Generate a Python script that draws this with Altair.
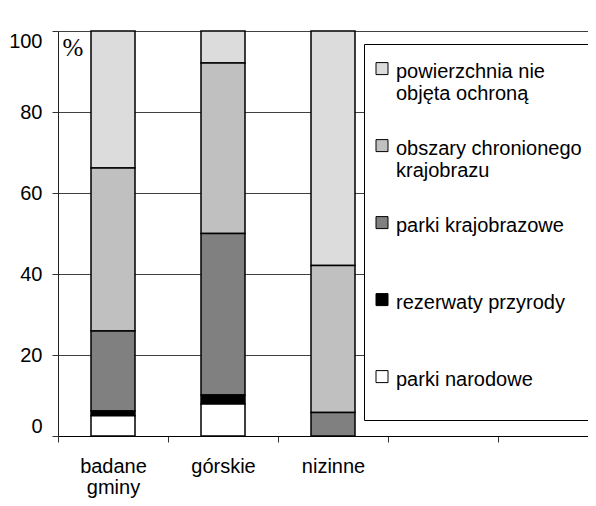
import altair as alt
import pandas as pd

# ---- data ----
categories = ["badane gminy", "górskie", "nizinne"]
empty_slots = [" ", "  ", "   "]
series = [
    "powierzchnia nie objęta ochroną",
    "obszary chronionego krajobrazu",
    "parki krajobrazowe",
    "rezerwaty przyrody",
    "parki narodowe",
]
colors = ["#dcdcdc", "#c0c0c0", "#808080", "#000000", "#ffffff"]
stack_rank = [4, 3, 2, 1, 0]
nie_objeta = [33.8, 7.9, 57.9]
obszary = [40.3, 42.1, 36.3]
krajobrazowe = [19.7, 39.9, 5.8]
rezerwaty = [1.2, 2.2, 0.0]
narodowe = [5.0, 7.9, 0.0]
percent_label = ["%"]
y_ticks = [0, 20, 40, 60, 80, 100]

values = [nie_objeta, obszary, krajobrazowe, rezerwaty, narodowe]
rows = []
for s, r, vals in zip(series, stack_rank, values):
    for c, v in zip(categories, vals):
        if v > 0:
            rows.append({"kategoria": c, "seria": s, "rank": r, "wartosc": v})
df = pd.DataFrame(rows)

FONT = "Liberation Sans"

x_label_expr = (
    "datum.label == 'badane gminy' ? ['badane', 'gminy'] : "
    "(datum.label == 'górskie' || datum.label == 'nizinne') ? datum.label : ''"
)
legend_label_expr = (
    "datum.label == 'powierzchnia nie objęta ochroną' ? ['powierzchnia nie', 'objęta ochroną'] : "
    "datum.label == 'obszary chronionego krajobrazu' ? ['obszary chronionego', 'krajobrazu'] : "
    "[datum.label, '']"
)

bars = alt.Chart(df).mark_bar(width=44, stroke="black", strokeWidth=1.5).encode(
    x=alt.X(
        "kategoria:N",
        scale=alt.Scale(domain=categories + empty_slots, range=[0, 660],
                        paddingInner=0, paddingOuter=0),
        axis=alt.Axis(
            title=None, labelAngle=0, labelExpr=x_label_expr, tickBand="extent",
            labelFont=FONT, labelFontSize=20, labelColor="black",
            labelPadding=14, labelLineHeight=21, tickSize=6, tickColor="#333",
            domainColor="black", domainWidth=1, grid=False,
        ),
    ),
    y=alt.Y(
        "wartosc:Q",
        stack="zero",
        scale=alt.Scale(domain=[0, 100], nice=False),
        axis=alt.Axis(
            title=None, values=y_ticks, labelFlush=True,
            labelFont=FONT, labelFontSize=20, labelColor="black", labelPadding=10,
            tickSize=6, tickColor="#333", domainColor="#222", domainWidth=1,
            grid=True, gridColor="#404040", gridWidth=1,
        ),
    ),
    color=alt.Color(
        "seria:N",
        scale=alt.Scale(domain=series, range=colors),
        legend=alt.Legend(
            title=None, orient="none", legendX=306, legendY=13,
            direction="vertical",
            fillColor="white", strokeColor="black", padding=8,
            labelFont=FONT, labelFontSize=20, labelColor="black",
            labelLimit=600, labelBaseline="top", labelOffset=4,
            labelExpr=legend_label_expr,
            symbolType="M-1,0.1H1V2.1H-1Z", symbolSize=144,
            symbolStrokeColor="black", symbolStrokeWidth=1,
            rowPadding=25,
        ),
    ),
    order=alt.Order("rank:Q", sort="ascending"),
)

pct = alt.Chart(pd.DataFrame({"t": percent_label})).mark_text(
    font="Liberation Serif", fontSize=25, color="black",
    align="center", baseline="alphabetic",
).encode(x=alt.value(15), y=alt.value(25), text="t:N")

chart = alt.layer(bars, pct).properties(
    width=530, height=405,
    autosize=alt.AutoSizeParams(type="none"),
    padding={"left": 50, "top": 23, "right": 0, "bottom": 62},
    background="white",
).configure_view(stroke=None)

chart.save("out.html", embed_options={"renderer": "svg", "actions": False})
